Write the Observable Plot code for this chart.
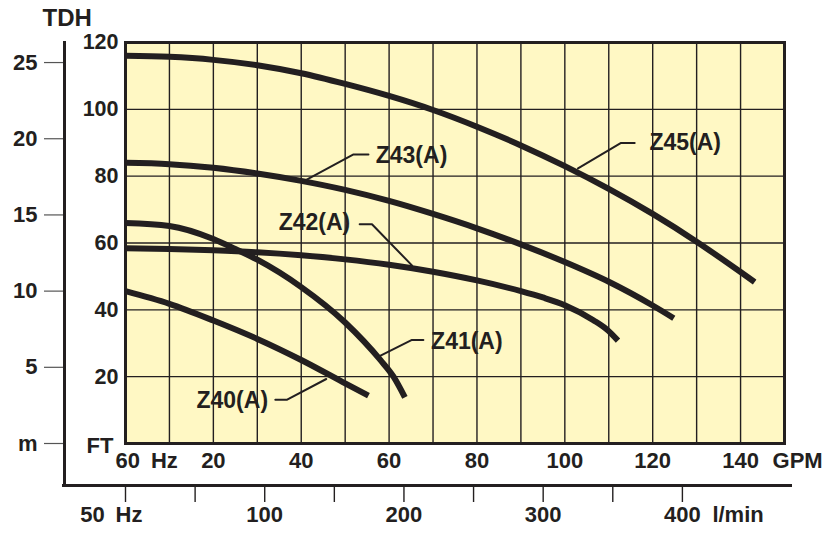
<!DOCTYPE html>
<html><head><meta charset="utf-8">
<script src="https://cdn.jsdelivr.net/npm/d3@7"></script>
<script src="https://cdn.jsdelivr.net/npm/@observablehq/plot@0.6"></script>
<style>
html,body{margin:0;padding:0;background:#fff;}
svg text{font-family:"Liberation Sans",Arial,Helvetica,sans-serif;}
</style></head><body><div id="chart"></div>
<script>
// ---- data (GPM, FT) ----
const z40 = [[0,45.6],[10,41.8],[20,36.8],[30,31.3],[40,25],[50,18],[55.3,14.3]];
const z41 = [[0,66],[10,65.1],[20,61.2],[25,58.2],[30,55],[40,46.8],[50,36.2],[58,25],[61,20],[63.6,13.8]];
const z42 = [[0,58.4],[10,58.2],[20,57.8],[30,57.2],[40,56.3],[50,55.1],[60,53.5],[70,51.4],[80,48.8],[90,45.6],[95,43.7],[100,41.4],[106.5,36.9],[109.5,34.2],[112.1,30.8]];
const z43 = [[0,84],[10,83.6],[20,82.5],[30,80.8],[40,78.6],[50,75.9],[60,72.6],[70,68.7],[80,64.4],[90,59.6],[100,54.3],[110,48.4],[120,41.3],[124.8,37.5]];
const z45 = [[0,116],[10,115.7],[20,114.8],[30,113.2],[40,110.8],[50,107.6],[60,104],[70,99.8],[80,94.8],[90,89.2],[100,83],[110,76.2],[120,68.7],[130,60.4],[140,51.3],[143.2,48.3]];
const curveNames = ["Z40(A)","Z41(A)","Z42(A)","Z43(A)","Z45(A)"];
const curveData = [z40, z41, z42, z43, z45];

// label positions (GPM, FT) and leader lines
const labelGpm = [24.3, 77.7, 43.0, 65.1, 127.4];
const labelFt  = [12.9, 30.5, 66.0, 86.2, 90.0];
const leaderZ40 = [[34.1,13.1],[36.8,13.1],[45.7,19.3]];
const leaderZ41 = [[67.8,31.0],[65.2,31.0],[57.6,26.0]];
const leaderZ42 = [[53.3,65.6],[56.1,65.6],[65.2,53.3]];
const leaderZ43 = [[55.3,86.5],[51.9,86.5],[40.2,78.2]];
const leaderZ45 = [[115.9,89.9],[112.7,89.9],[103.0,82.3]];
const leaders = [leaderZ40, leaderZ41, leaderZ42, leaderZ43, leaderZ45];

// axes
const gpmTicks = [20,40,60,80,100,120,140];
const ftTicks = [20,40,60,80,100,120];
const gridGpm = d3.range(10,150,10);
const gridFt = [20,40,60,80,100];
const mTicks = [0,5,10,15,20,25];
const lpmMajor = [0,100,200,300,400];
const lpmMinor = [50,150,250,350];
const M2FT = 4.56;       // scale of the metre axis as drawn
const LPM2GPM = 0.3169;  // scale of the l/min axis as drawn

const INK = "#231f20";
const YELLOW = "#fff8c4";

const curveRows = curveData.flatMap((c,i)=>c.map(([g,f])=>({name:curveNames[i],gpm:g,ft:f})));
const leaderRows = leaders.flatMap((c,i)=>c.map(([g,f])=>({name:curveNames[i],gpm:g,ft:f})));
const labelRows = curveNames.map((n,i)=>({name:n,gpm:labelGpm[i],ft:labelFt[i]}));

const chart = Plot.plot({
  width: 825, height: 533,
  marginLeft: 125, marginRight: 41, marginTop: 42, marginBottom: 90,
  x: {domain: [0,150]},
  y: {domain: [0,120]},
  style: {fontFamily: "Liberation Sans, Arial, sans-serif", fontSize: "21px", fontWeight: "bold", color: INK, background: "white", overflow: "visible"},
  marks: [
    Plot.frame({fill: YELLOW, stroke: "none"}),
    Plot.ruleX(gridGpm, {stroke: INK, strokeWidth: 1.4}),
    Plot.ruleY(gridFt, {stroke: INK, strokeWidth: 1.4}),
    Plot.frame({stroke: INK, strokeWidth: 3}),
    // FT axis
    Plot.axisY({ticks: ftTicks, tickSize: 0, tickPadding: 7, label: null, fontSize: 21.5, fill: INK}),
    Plot.text(["FT"], {x: 0, y: 0, textAnchor: "end", dx: -12, dy: 2, fontSize: 22, fill: INK}),
    // m axis
    Plot.axisY({ticks: mTicks.map(m=>m*M2FT), tickFormat: d => {const m = Math.round(d/M2FT); return m===0 ? "m" : String(m);},
      anchor: "left", tickSize: 20, tickPadding: 7, dx: -61, label: null, fontSize: 22, fill: INK, stroke: "#555", strokeWidth: 1.2}),
    Plot.frame({anchor: "left", insetLeft: -61, insetBottom: -42, stroke: INK, strokeWidth: 3}),
    Plot.text(["TDH"], {frameAnchor: "top-left", textAnchor: "start", lineAnchor: "middle", dx: -83, dy: -24.5, fontSize: 24, fill: INK}),
    // GPM axis
    Plot.axisX({ticks: gpmTicks, tickSize: 0, tickPadding: 9, label: null, fontSize: 22, fill: INK}),
    Plot.text(["60\u2002Hz"], {x: 0, y: 0, textAnchor: "start", dx: -10, dy: 17.5, fontSize: 22, fill: INK}),
    Plot.text(["GPM"], {x: 140, y: 0, textAnchor: "start", dx: 32, dy: 17.5, fontSize: 22, fill: INK}),
    // l/min axis
    Plot.axisX({ticks: lpmMajor.concat(lpmMinor).map(v=>v*LPM2GPM), tickFormat: d => {const v = Math.round(d/LPM2GPM); return (v>0 && v%100===0) ? String(v) : "";},
      anchor: "bottom", tickSize: 16, tickPadding: 4, dy: 43, label: null, fontSize: 22, fill: INK, stroke: INK, strokeWidth: 1.4}),
    Plot.frame({anchor: "bottom", insetBottom: -42, insetLeft: -62, insetRight: -6, stroke: INK, strokeWidth: 3}),
    Plot.text(["50\u2002Hz"], {x: 0, y: 0, textAnchor: "end", dx: 17, dy: 71.6, fontSize: 22, fill: INK}),
    Plot.text(["l/min"], {x: 400*LPM2GPM, y: 0, textAnchor: "start", dx: 30, dy: 71.6, fontSize: 22, fill: INK}),
    // curves
    Plot.line(curveRows, {x: "gpm", y: "ft", z: "name", curve: "monotone-x", stroke: INK, strokeWidth: 6, strokeLinecap: "butt"}),
    Plot.line(leaderRows, {x: "gpm", y: "ft", z: "name", stroke: INK, strokeWidth: 2}),
    Plot.text(labelRows, {x: "gpm", y: "ft", text: "name", fontSize: 23, fontWeight: "bold", fill: INK, ariaLabel: "curve-label"})
  ]
});
document.getElementById("chart").appendChild(chart);

// boxes behind curve labels
const svgns = "http://www.w3.org/2000/svg";
const lg = chart.querySelector('g[aria-label="curve-label"]');
if (lg) {
  lg.querySelectorAll("text").forEach(t => {
    const b = t.getBBox();
    const r = document.createElementNS(svgns, "rect");
    r.setAttribute("x", b.x - 5);
    r.setAttribute("y", b.y + 0.5);
    r.setAttribute("width", b.width + 10);
    r.setAttribute("height", b.height + 1);
    r.setAttribute("fill", YELLOW);
    r.setAttribute("stroke", "white");
    r.setAttribute("stroke-width", 1.3);
    const tr = t.getAttribute("transform");
    if (tr) r.setAttribute("transform", tr);
    lg.insertBefore(r, t);
  });
}
</script></body></html>
